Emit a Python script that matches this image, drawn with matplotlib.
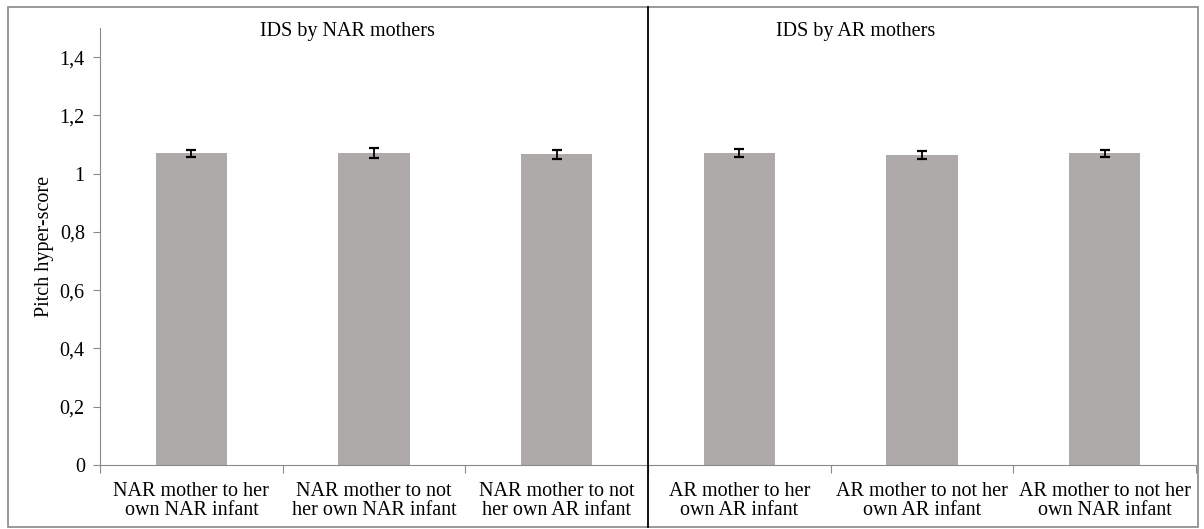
import matplotlib.pyplot as plt
from matplotlib.lines import Line2D
from matplotlib.patches import Rectangle
import numpy as np

plt.rcParams['font.family'] = ['Liberation Serif', 'DejaVu Serif']

labels = ['NAR mother to her\nown NAR infant', 'NAR mother to not\nher own NAR infant',
          'NAR mother to not\nher own AR infant', 'AR mother to her\nown AR infant',
          'AR mother to not her\nown AR infant', 'AR mother to not her\nown NAR infant']
scores = [1.07, 1.07, 1.066, 1.07, 1.065, 1.07]
errors = [0.013, 0.017, 0.016, 0.014, 0.013, 0.013]
panel_titles = ['IDS by NAR mothers', 'IDS by AR mothers']
yticks = [0, 0.2, 0.4, 0.6, 0.8, 1.0, 1.2, 1.4]
ytick_labels = ['0', '0,2', '0,4', '0,6', '0,8', '1', '1,2', '1,4']

axis_grey = '#8a8a8a'
fs = 14.5

fig = plt.figure(figsize=(12.04, 5.29), dpi=100)
ax = fig.add_axes([0.0831, 0.121, 0.9103, 0.826])

x = np.arange(len(scores))
ax.bar(x, scores, width=0.39, color='#aeaaa9', zorder=2)
ax.errorbar(x, scores, yerr=errors, fmt='none', ecolor='black', elinewidth=1.3,
            capsize=3.3, capthick=1.6, zorder=3)

ax.set_xlim(-0.5, len(scores) - 0.5)
ax.set_ylim(0, 1.5)
ax.set_yticks(yticks)
ax.set_yticklabels(ytick_labels, fontsize=fs)
ax.set_ylabel('Pitch hyper-score', fontsize=fs, va='center')
ax.yaxis.set_label_coords(-0.0505, 0.5)

# boundary ticks carry the marks, centre ticks carry the labels
ax.set_xticks(np.arange(-0.5, len(scores)), minor=False)
ax.set_xticklabels([])
ax.set_xticks(x, minor=True)
ax.set_xticklabels(labels, minor=True, fontsize=fs, linespacing=1.02)
ax.tick_params(axis='x', which='major', length=6, direction='out', color=axis_grey)
ax.tick_params(axis='x', which='minor', length=0, pad=12)
ax.tick_params(axis='y', length=5, color=axis_grey, pad=6)

for side in ['top', 'right']:
    ax.spines[side].set_visible(False)
for side in ['left', 'bottom']:
    ax.spines[side].set_color(axis_grey)

ax.text(0.852, 1.488, panel_titles[0], fontsize=fs, ha='center', va='center')
ax.text(3.636, 1.488, panel_titles[1], fontsize=fs, ha='center', va='center')

# divider between the two mother groups
div_x = (0.0831 + 0.9103 * 0.5)
fig.add_artist(Line2D([div_x, div_x], [0.003, 0.987], color='black', lw=1.3,
                      transform=fig.transFigure))

# frame around the whole figure
fig.add_artist(Rectangle((0.007, 0.003), 0.988, 0.984, fill=False,
                         edgecolor='#888888', lw=1.2, transform=fig.transFigure))

fig.savefig('out.png', dpi=100)
